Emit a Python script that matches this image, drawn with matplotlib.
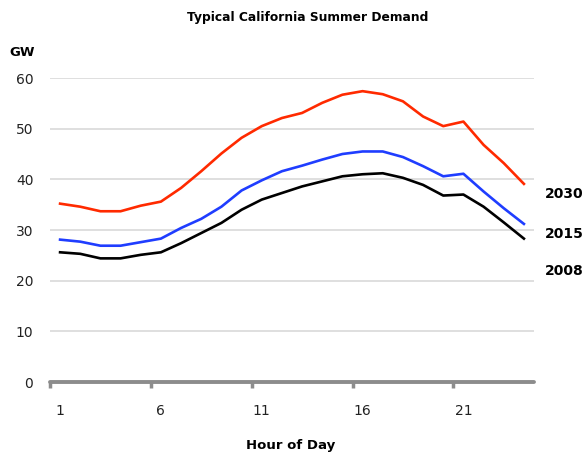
import matplotlib
matplotlib.use("Agg")
import matplotlib.pyplot as plt

hours = list(range(1, 25))
demand_2030 = [35.2, 34.6, 33.7, 33.7, 34.8, 35.6, 38.3, 41.6, 45.1, 48.2, 50.5, 52.1,
               53.1, 55.1, 56.7, 57.4, 56.8, 55.4, 52.4, 50.5, 51.4, 46.8, 43.2, 39.1]
demand_2015 = [28.1, 27.7, 26.9, 26.9, 27.6, 28.3, 30.4, 32.2, 34.6, 37.8, 39.8, 41.6,
               42.7, 43.9, 45.0, 45.5, 45.5, 44.4, 42.6, 40.6, 41.1, 37.6, 34.3, 31.2]
demand_2008 = [25.6, 25.3, 24.4, 24.4, 25.1, 25.6, 27.4, 29.4, 31.4, 34.0, 36.0, 37.3,
               38.6, 39.6, 40.6, 41.0, 41.2, 40.3, 38.9, 36.8, 37.0, 34.6, 31.5, 28.3]
series_names = ["2030", "2015", "2008"]
series_colors = ["#ff2a00", "#1f3dff", "#000000"]
x_tick_labels = [1, 6, 11, 16, 21]
y_ticks = [0, 10, 20, 30, 40, 50, 60]

W, H = 587, 454
fig = plt.figure(figsize=(W / 100, H / 100), dpi=100)
ax = fig.add_axes([50 / W, (H - 382) / H, 484 / W, 304 / H])

for vals, col in zip([demand_2030, demand_2015, demand_2008], series_colors):
    ax.plot(hours, vals, color=col, lw=1.9, solid_joinstyle="round", zorder=3)

ax.set_xlim(0.5, 24.5)
ax.set_ylim(0, 60)
ax.set_yticks(y_ticks)
ax.set_yticklabels([str(v) for v in y_ticks], fontsize=10, color="#222222")
ax.tick_params(axis="y", length=0, pad=12)
ax.yaxis.grid(True, color="#d9d9d9", lw=1.2)
ax.set_axisbelow(True)

ax.set_xticks([0.5, 5.5, 10.5, 15.5, 20.5])
ax.set_xticklabels([])
ax.tick_params(axis="x", which="major", length=4, width=2.5, color="#8c8c8c", direction="out")
ax.set_xticks(x_tick_labels, minor=True)
ax.set_xticklabels([str(v) for v in x_tick_labels], minor=True, fontsize=10, color="#222222")
ax.tick_params(axis="x", which="minor", length=0, pad=16)

for s in ["top", "right", "left"]:
    ax.spines[s].set_visible(False)
ax.spines["bottom"].set_color("#8c8c8c")
ax.spines["bottom"].set_linewidth(2.8)
ax.spines["bottom"].set_capstyle("round")

fig.text(308 / W, 1 - 18 / H, "Typical California Summer Demand", ha="center", va="center",
         fontsize=8.8, fontweight="bold")
fig.text(9 / W, 1 - 52 / H, "GW", ha="left", va="center", fontsize=9.5, fontweight="bold")
fig.text(291 / W, 1 - 446 / H, "Hour of Day", ha="center", va="center", fontsize=9.5,
         fontweight="bold")
for name, ypx in zip(series_names, [194, 234, 271]):
    fig.text(545 / W, 1 - ypx / H, name, ha="left", va="center", fontsize=10, fontweight="bold")

fig.savefig("out.png", dpi=100, facecolor="white")
